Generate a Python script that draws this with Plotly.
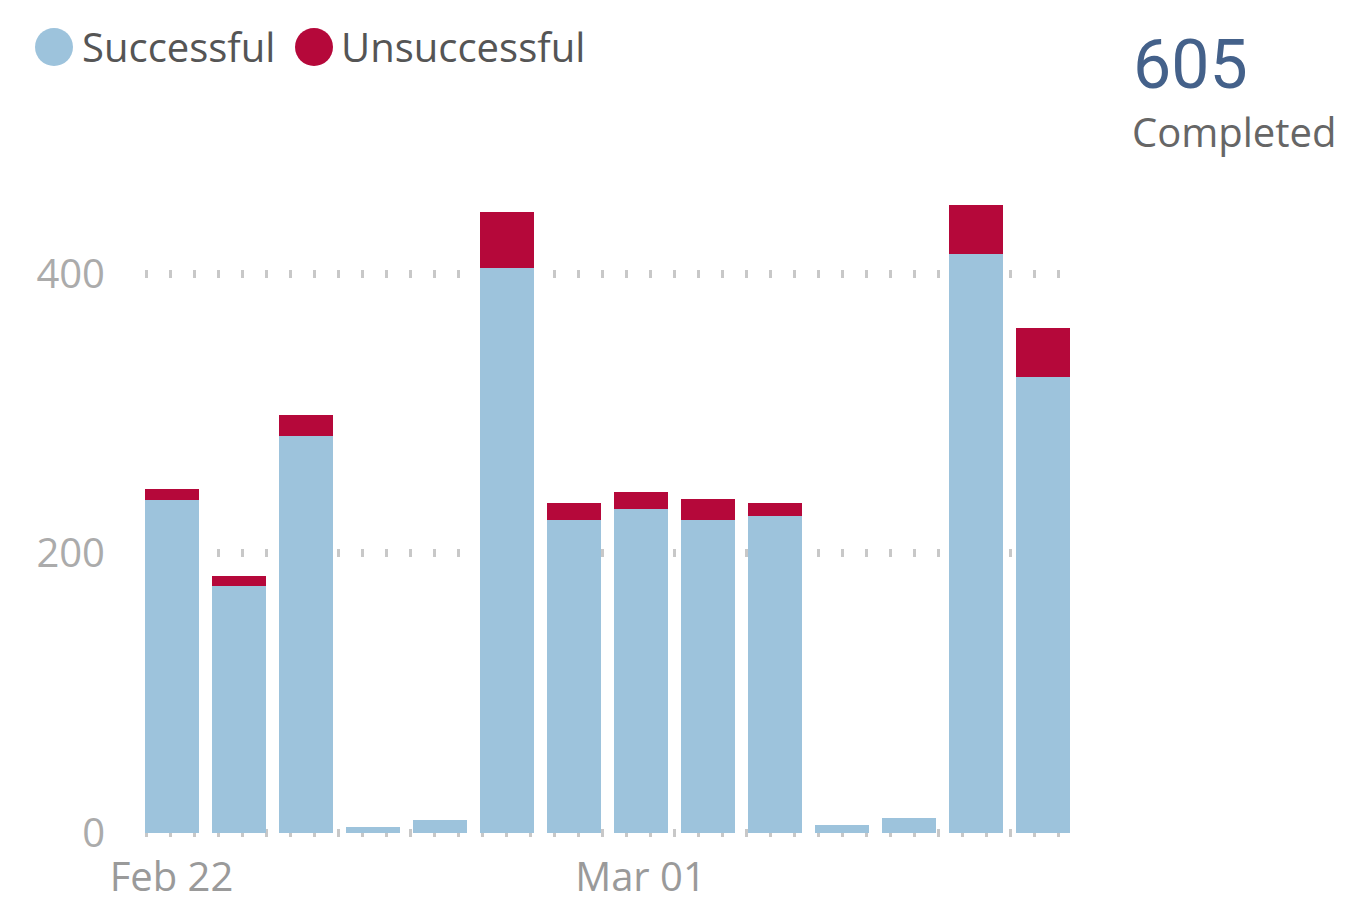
import plotly.graph_objects as go

dates = ["2021-02-22", "2021-02-23", "2021-02-24", "2021-02-25", "2021-02-26", "2021-02-27", "2021-02-28",
         "2021-03-01", "2021-03-02", "2021-03-03", "2021-03-04", "2021-03-05", "2021-03-06", "2021-03-07"]
successful = [238, 177, 284, 4, 9, 404, 224, 232, 224, 227, 6, 11, 414, 326]
unsuccessful = [8, 7, 15, 0, 0, 40, 12, 12, 15, 9, 0, 0, 35, 35]
y_ticks = [0, 200, 400]
x_tickvals = ["2021-02-22", "2021-03-01"]
x_ticktext = ["Feb 22", "Mar 01"]
kpi_value = "605"
kpi_label = "Completed"

BLUE = "#9DC3DC"
RED = "#B5083A"

OFF = 8  # page body margin
W, H = 1347 - OFF, 902 - OFF
L, R, T, B = 130, 271, 182, 63
PW, PH = W - L - R, H - T - B

def px(x):
    # x in screenshot pixels -> paper coords
    return (x - OFF - L) / PW

def py(y):
    return (H - B - (y - OFF)) / PH

fig = go.Figure()
fig.add_bar(x=dates, y=successful, name="Successful", marker=dict(color=BLUE, line=dict(width=0)),
            showlegend=False)
fig.add_bar(x=dates, y=unsuccessful, name="Unsuccessful", marker=dict(color=RED, line=dict(width=0)),
            showlegend=False)

FONT = "Open Sans"

fig.update_layout(
    width=W, height=H,
    margin=dict(l=L, r=R, t=T, b=B, pad=0, autoexpand=False),
    barmode="stack",
    bargap=0.194,
    plot_bgcolor="white",
    paper_bgcolor="white",
    font=dict(family=FONT),
    xaxis=dict(
        type="category",
        tickmode="array",
        tickvals=x_tickvals,
        ticktext=x_ticktext,
        showgrid=False,
        zeroline=False,
        showline=False,
        ticks="",
        automargin=False,
        tickfont=dict(size=40, color="#9A9A9A", family=FONT),
        ticklabelstandoff=11,
    ),
    yaxis=dict(
        range=[-4.3, 460],
        tickmode="array",
        tickvals=y_ticks,
        showgrid=True,
        gridcolor="#C8C8C8",
        gridwidth=8,
        griddash="0px,7px,3px,14px",
        zeroline=False,
        showline=False,
        ticks="",
        automargin=False,
        tickfont=dict(size=40, color="#ABABAB", family=FONT),
        ticklabelstandoff=32,
    ),
)

# legend drawn as circles + labels
legend_items = [("Successful", BLUE, 54, 80), ("Unsuccessful", RED, 314, 339)]
shapes = []
annotations = []
for name, col, cx, tx in legend_items:
    r = 19
    shapes.append(dict(type="circle", xref="paper", yref="paper",
                       x0=px(cx - r), x1=px(cx + r), y0=py(47 + r), y1=py(47 - r),
                       fillcolor=col, line=dict(width=0)))
    annotations.append(dict(text=name, xref="paper", yref="paper", x=px(tx), y=py(46),
                            xanchor="left", yanchor="middle", showarrow=False,
                            font=dict(size=40, color="#555555", family=FONT)))

annotations.append(dict(text=kpi_value, xref="paper", yref="paper", x=px(1131), y=py(65),
                        xanchor="left", yanchor="middle", showarrow=False,
                        font=dict(size=68, color="#44618A", family="Roboto")))
annotations.append(dict(text=kpi_label, xref="paper", yref="paper", x=px(1130), y=py(132),
                        xanchor="left", yanchor="middle", showarrow=False,
                        font=dict(size=40, color="#666666", family=FONT)))

fig.update_layout(shapes=shapes, annotations=annotations)

fig.write_html("out.html")
